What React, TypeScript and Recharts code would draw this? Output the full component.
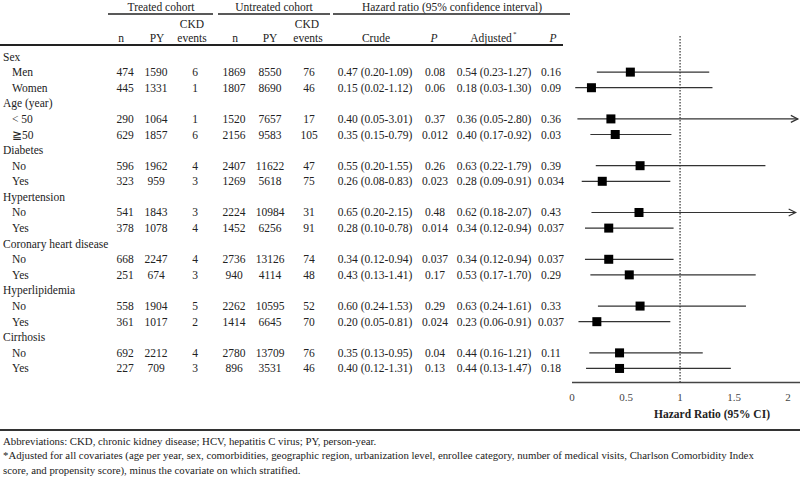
import { ScatterChart, Scatter, XAxis, YAxis, ReferenceLine } from "recharts";

const labels = ["Sex", "Men", "Women", "Age (year)", "< 50", "≧50", "Diabetes", "No", "Yes", "Hypertension", "No", "Yes", "Coronary heart disease", "No", "Yes", "Hyperlipidemia", "No", "Yes", "Cirrhosis", "No", "Yes"];
const treatedN = [null, 474, 445, null, 290, 629, null, 596, 323, null, 541, 378, null, 668, 251, null, 558, 361, null, 692, 227];
const treatedPY = [null, 1590, 1331, null, 1064, 1857, null, 1962, 959, null, 1843, 1078, null, 2247, 674, null, 1904, 1017, null, 2212, 709];
const treatedEvents = [null, 6, 1, null, 1, 6, null, 4, 3, null, 3, 4, null, 4, 3, null, 5, 2, null, 4, 3];
const untreatedN = [null, 1869, 1807, null, 1520, 2156, null, 2407, 1269, null, 2224, 1452, null, 2736, 940, null, 2262, 1414, null, 2780, 896];
const untreatedPY = [null, 8550, 8690, null, 7657, 9583, null, 11622, 5618, null, 10984, 6256, null, 13126, 4114, null, 10595, 6645, null, 13709, 3531];
const untreatedEvents = [null, 76, 46, null, 17, 105, null, 47, 75, null, 31, 91, null, 74, 48, null, 52, 70, null, 76, 46];
const crudeHR = [null, 0.47, 0.15, null, 0.40, 0.35, null, 0.55, 0.26, null, 0.65, 0.28, null, 0.34, 0.43, null, 0.60, 0.20, null, 0.35, 0.40];
const crudeLo = [null, 0.20, 0.02, null, 0.05, 0.15, null, 0.20, 0.08, null, 0.20, 0.10, null, 0.12, 0.13, null, 0.24, 0.05, null, 0.13, 0.12];
const crudeHi = [null, 1.09, 1.12, null, 3.01, 0.79, null, 1.55, 0.83, null, 2.15, 0.78, null, 0.94, 1.41, null, 1.53, 0.81, null, 0.95, 1.31];
const crudeP = [null, "0.08", "0.06", null, "0.37", "0.012", null, "0.26", "0.023", null, "0.48", "0.014", null, "0.037", "0.17", null, "0.29", "0.024", null, "0.04", "0.13"];
const adjHR = [null, 0.54, 0.18, null, 0.36, 0.40, null, 0.63, 0.28, null, 0.62, 0.34, null, 0.34, 0.53, null, 0.63, 0.23, null, 0.44, 0.44];
const adjLo = [null, 0.23, 0.03, null, 0.05, 0.17, null, 0.22, 0.09, null, 0.18, 0.12, null, 0.12, 0.17, null, 0.24, 0.06, null, 0.16, 0.13];
const adjHi = [null, 1.27, 1.30, null, 2.80, 0.92, null, 1.79, 0.91, null, 2.07, 0.94, null, 0.94, 1.70, null, 1.61, 0.91, null, 1.21, 1.47];
const adjP = [null, "0.16", "0.09", null, "0.36", "0.03", null, "0.39", "0.034", null, "0.43", "0.037", null, "0.037", "0.29", null, "0.33", "0.037", null, "0.11", "0.18"];
const xTicks = [0, 0.5, 1, 1.5, 2];

const FONT = '"Liberation Serif", "Times New Roman", serif';
const INK = "#222";
const X_MAX = 2.11;
const ROW_MIN = -1.38;
const ROW_MAX = 20.9;

const fmt = (v: number) => v.toFixed(2);
const ci = (hr: number, lo: number, hi: number) => `${fmt(hr)} (${fmt(lo)}-${fmt(hi)})`;

// column centres of the table (text-anchor middle)
const columns = [
  { x: 125, text: (i: number) => treatedN[i] },
  { x: 156, text: (i: number) => treatedPY[i] },
  { x: 195, text: (i: number) => treatedEvents[i] },
  { x: 234, text: (i: number) => untreatedN[i] },
  { x: 270, text: (i: number) => untreatedPY[i] },
  { x: 309, text: (i: number) => untreatedEvents[i] },
  { x: 375, text: (i: number) => ci(crudeHR[i]!, crudeLo[i]!, crudeHi[i]!) },
  { x: 435, text: (i: number) => crudeP[i] },
  { x: 494, text: (i: number) => ci(adjHR[i]!, adjLo[i]!, adjHi[i]!) },
  { x: 551, text: (i: number) => adjP[i] },
];

const points = adjHR
  .map((hr, i) => (hr == null ? null : { hr, row: i }))
  .filter(Boolean) as { hr: number; row: number }[];

const textStyle = { fontFamily: FONT, fontSize: 11.5, fill: INK };

function RowTick(props: any) {
  const { y, payload } = props;
  const i = payload.value as number;
  const group = treatedN[i] == null;
  const base = y + 4;
  return (
    <g style={textStyle}>
      <text x={group ? 3 : 12} y={base}>{labels[i]}</text>
      {!group &&
        columns.map((c, k) => (
          <text key={k} x={c.x} y={base} textAnchor="middle">{c.text(i)}</text>
        ))}
    </g>
  );
}

function ciShape(arrow: boolean) {
  return (p: any) => {
    const { x1, y1, x2, y2 } = p;
    return (
      <g>
        <line x1={x1} y1={y1} x2={x2} y2={y2} stroke="#333" strokeWidth={1.2} />
        {arrow && (
          <path d={`M${x2 - 7},${y2 - 3.5} L${x2},${y2} L${x2 - 7},${y2 + 3.5}`} fill="none" stroke="#333" strokeWidth={1.2} />
        )}
      </g>
    );
  };
}

function Overlay() {
  return (
    <svg width={800} height={478} style={{ position: "absolute", left: 0, top: 0, pointerEvents: "none", ...textStyle }}>
      <text x={161} y={11} textAnchor="middle">Treated cohort</text>
      <text x={274} y={11} textAnchor="middle">Untreated cohort</text>
      <text x={452} y={11} textAnchor="middle">Hazard ratio (95% confidence interval)</text>
      <line x1={108} x2={213} y1={14} y2={14} stroke={INK} strokeWidth={1.5} />
      <line x1={218} x2={330} y1={14} y2={14} stroke={INK} strokeWidth={1.5} />
      <line x1={333} x2={570} y1={14} y2={14} stroke={INK} strokeWidth={1.5} />

      <text x={192} y={28} textAnchor="middle">CKD</text>
      <text x={307} y={28} textAnchor="middle">CKD</text>

      <text x={121} y={42} textAnchor="middle">n</text>
      <text x={157} y={42} textAnchor="middle">PY</text>
      <text x={192} y={42} textAnchor="middle">events</text>
      <text x={235} y={42} textAnchor="middle">n</text>
      <text x={270} y={42} textAnchor="middle">PY</text>
      <text x={308} y={42} textAnchor="middle">events</text>
      <text x={376} y={42} textAnchor="middle">Crude</text>
      <text x={434} y={42} textAnchor="middle" style={{ fontStyle: "italic" }}>P</text>
      <text x={491} y={42} textAnchor="middle">Adjusted</text>
      <text x={513} y={36} style={{ fontSize: 7 }}>*</text>
      <text x={553} y={42} textAnchor="middle" style={{ fontStyle: "italic" }}>P</text>
      <line x1={0} x2={563} y1={45} y2={45} stroke={INK} strokeWidth={2} />

      <text x={712} y={418} textAnchor="middle" style={{ fontWeight: "bold" }}>Hazard Ratio (95% CI)</text>

      <line x1={0} x2={800} y1={430} y2={430} stroke="#333" strokeWidth={2} />
      <g style={{ fontSize: 10.8 }}>
        <text x={3} y={444.5}>Abbreviations: CKD, chronic kidney disease; HCV, hepatitis C virus; PY, person-year.</text>
        <text x={3} y={458.5}>*Adjusted for all covariates (age per year, sex, comorbidities, geographic region, urbanization level, enrollee category, number of medical visits, Charlson Comorbidity Index</text>
        <text x={3} y={473.5}>score, and propensity score), minus the covariate on which stratified.</text>
      </g>
    </svg>
  );
}

export default function App() {
  return (
    <div style={{ position: "absolute", left: 0, top: 0, width: 800, height: 478, background: "#fff" }}>
      <ScatterChart width={800} height={478} margin={{ top: 35, right: 0, bottom: 65.5, left: 571 }}>
        <XAxis type="number" dataKey="hr" domain={[0, X_MAX]} allowDataOverflow ticks={xTicks} interval={0}
          tickLine={false} axisLine={{ stroke: "#444", strokeWidth: 1.3 }} height={30} tickMargin={5}
          tick={{ fontSize: 11, fill: "#444", fontFamily: FONT }} />
        <YAxis type="number" dataKey="row" domain={[ROW_MIN, ROW_MAX]} allowDataOverflow reversed
          ticks={labels.map((_, i) => i)} interval={0} width={1} axisLine={false} tickLine={false}
          tick={(p: any) => <RowTick {...p} />} />
        <ReferenceLine x={1} stroke="#333" strokeWidth={1.2} strokeDasharray="1.5 1.5" />
        {points.map(({ row }) => {
          const hi = adjHi[row]!;
          const arrow = hi > xTicks[xTicks.length - 1];
          const end = Math.min(hi, X_MAX - 0.02);
          return (
            <ReferenceLine key={row} segment={[{ x: adjLo[row]!, y: row }, { x: end, y: row }]}
              shape={ciShape(arrow)} />
          );
        })}
        <Scatter data={points} isAnimationActive={false}
          shape={(p: any) => <rect x={p.cx - 4.5} y={p.cy - 4.5} width={9} height={9} fill="#000" />} />
      </ScatterChart>
      <Overlay />
    </div>
  );
}
